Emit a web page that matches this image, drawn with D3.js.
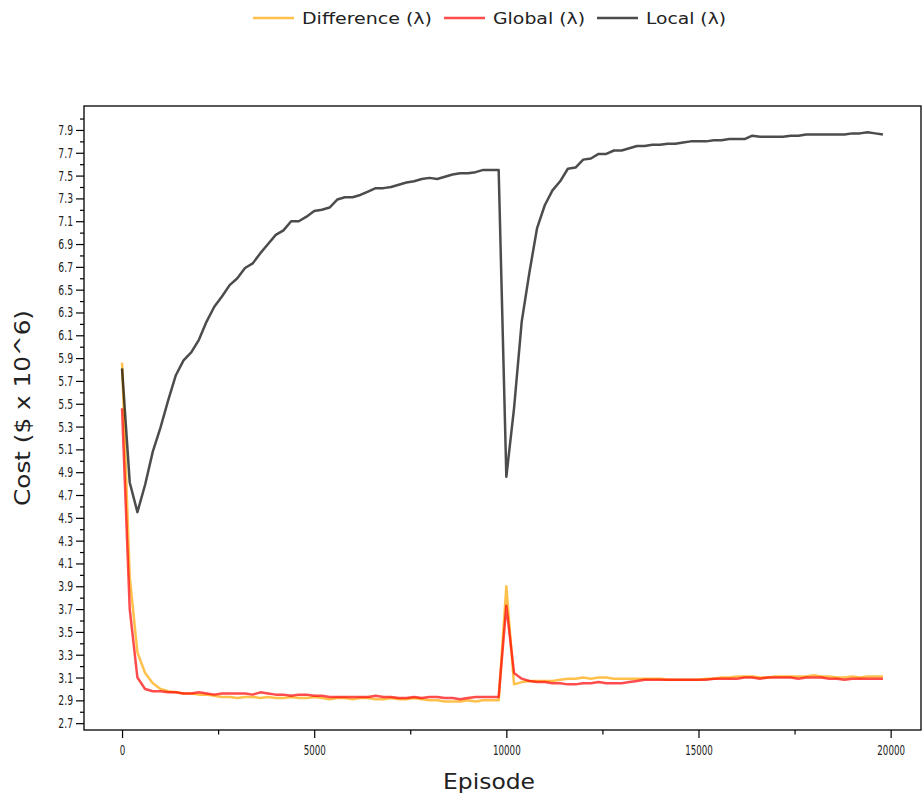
<!DOCTYPE html>
<html>
<head>
<meta charset="utf-8">
<script src="https://cdn.jsdelivr.net/npm/d3@7"></script>
<style>
    body { margin: 0; background: #fff; }
    text { font-family: "DejaVu Sans", sans-serif; fill: #222; }
</style>
</head>
<body>
<div id="chart"></div>
<script>

// Episodes sampled every 200 steps
var episodes = d3.range(0, 20000, 200);

var difference = [5.86, 3.98, 3.32, 3.14, 3.05, 3.00, 2.98, 2.97, 2.96, 2.96,
    2.95, 2.95, 2.94, 2.93, 2.93, 2.92, 2.93, 2.93, 2.92, 2.93,
    2.92, 2.92, 2.93, 2.92, 2.92, 2.93, 2.92, 2.91, 2.92, 2.92,
    2.91, 2.92, 2.92, 2.91, 2.91, 2.92, 2.91, 2.91, 2.92, 2.91,
    2.90, 2.90, 2.89, 2.89, 2.89, 2.90, 2.89, 2.90, 2.90, 2.90,
    3.90, 3.04, 3.06, 3.07, 3.07, 3.07, 3.07, 3.08, 3.09, 3.09,
    3.10, 3.09, 3.10, 3.10, 3.09, 3.09, 3.09, 3.09, 3.09, 3.09,
    3.09, 3.08, 3.08, 3.08, 3.08, 3.08, 3.09, 3.09, 3.10, 3.10,
    3.11, 3.11, 3.11, 3.10, 3.10, 3.11, 3.11, 3.11, 3.11, 3.11,
    3.12, 3.11, 3.11, 3.10, 3.10, 3.11, 3.10, 3.11, 3.11, 3.11];

var global = [5.46, 3.70, 3.10, 3.00, 2.98, 2.98, 2.97, 2.97, 2.96, 2.96,
    2.97, 2.96, 2.95, 2.96, 2.96, 2.96, 2.96, 2.95, 2.97, 2.96,
    2.95, 2.95, 2.94, 2.95, 2.95, 2.94, 2.94, 2.93, 2.93, 2.93,
    2.93, 2.93, 2.93, 2.94, 2.93, 2.93, 2.92, 2.92, 2.93, 2.92,
    2.93, 2.93, 2.92, 2.92, 2.91, 2.92, 2.93, 2.93, 2.93, 2.93,
    3.73, 3.14, 3.09, 3.07, 3.06, 3.06, 3.05, 3.05, 3.04, 3.04,
    3.05, 3.05, 3.06, 3.05, 3.05, 3.05, 3.06, 3.07, 3.08, 3.08,
    3.08, 3.08, 3.08, 3.08, 3.08, 3.08, 3.08, 3.09, 3.09, 3.09,
    3.09, 3.10, 3.10, 3.09, 3.10, 3.10, 3.10, 3.10, 3.09, 3.10,
    3.10, 3.10, 3.09, 3.09, 3.08, 3.09, 3.09, 3.09, 3.09, 3.09];

var local = [5.81, 4.81, 4.55, 4.79, 5.08, 5.29, 5.53, 5.75, 5.88, 5.95,
    6.06, 6.22, 6.35, 6.44, 6.54, 6.60, 6.69, 6.73, 6.82, 6.90,
    6.98, 7.02, 7.10, 7.10, 7.14, 7.19, 7.20, 7.22, 7.29, 7.31,
    7.31, 7.33, 7.36, 7.39, 7.39, 7.40, 7.42, 7.44, 7.45, 7.47,
    7.48, 7.47, 7.49, 7.51, 7.52, 7.52, 7.53, 7.55, 7.55, 7.55,
    4.86, 5.46, 6.22, 6.65, 7.04, 7.24, 7.37, 7.45, 7.56, 7.57,
    7.64, 7.65, 7.69, 7.69, 7.72, 7.72, 7.74, 7.76, 7.76, 7.77,
    7.77, 7.78, 7.78, 7.79, 7.80, 7.80, 7.80, 7.81, 7.81, 7.82,
    7.82, 7.82, 7.85, 7.84, 7.84, 7.84, 7.84, 7.85, 7.85, 7.86,
    7.86, 7.86, 7.86, 7.86, 7.86, 7.87, 7.87, 7.88, 7.87, 7.86];

var seriesNames = ["Difference (\u03bb)", "Global (\u03bb)", "Local (\u03bb)"];
var seriesColors = ["#ffa500", "#ff0000", "#000000"];
var seriesValues = [difference, global, local];

var xTicks = [0, 5000, 10000, 15000, 20000];
var xMinorTicks = [2500, 7500, 12500, 17500];
var yTicks = d3.range(27).map(function(i) { return +(2.7 + i * 0.2).toFixed(1); });
var yMinorTicks = d3.range(27).map(function(i) { return +(2.8 + i * 0.2).toFixed(1); });

var width = 923, height = 799;
var plot = { left: 84, right: 921, top: 106, bottom: 730 };

var svg = d3.select("#chart")
    .append("svg")
    .attr("width", width)
    .attr("height", height);

// matplotlib style 5% margins around the data
var x = d3.scaleLinear().domain([-990, 20790]).range([plot.left, plot.right]);
var y = d3.scaleLinear().domain([2.64, 8.11]).range([plot.bottom, plot.top]);

// Squeeze or stretch text horizontally to match the original
var squeeze = function (sel, k) {
    sel.each(function() {
        var w = this.getComputedTextLength();
        d3.select(this).attr("textLength", w * k).attr("lengthAdjust", "spacingAndGlyphs");
    });
};

// Lines (Local drawn last so it sits on top)
var line = d3.line()
    .x(function(d, i) { return x(episodes[i]); })
    .y(function(d) { return y(d); });

seriesValues.forEach(function(vals, s) {
    svg.append("path")
        .datum(vals)
        .attr("fill", "none")
        .attr("stroke", seriesColors[s])
        .attr("stroke-opacity", 0.7)
        .attr("stroke-width", 2.5)
        .attr("stroke-linejoin", "round")
        .attr("d", line);
});

// Axes
var xAxis = svg.append("g")
    .attr("transform", "translate(0," + plot.bottom + ")")
    .call(d3.axisBottom(x).tickValues(xTicks).tickSize(8).tickPadding(7).tickFormat(d3.format("d")));
xAxis.selectAll("text").attr("font-size", 14.5).attr("font-family", "DejaVu Sans").call(squeeze, 0.6);

svg.append("g")
    .attr("transform", "translate(0," + plot.bottom + ")")
    .call(d3.axisBottom(x).tickValues(xMinorTicks).tickSize(4.5).tickFormat(""));

var yAxis = svg.append("g")
    .attr("transform", "translate(" + plot.left + ",0)")
    .call(d3.axisLeft(y).tickValues(yTicks).tickSize(8).tickPadding(3).tickFormat(d3.format(".1f")));
yAxis.selectAll("text").attr("font-size", 14).attr("font-family", "DejaVu Sans").call(squeeze, 0.66);

svg.append("g")
    .attr("transform", "translate(" + plot.left + ",0)")
    .call(d3.axisLeft(y).tickValues(yMinorTicks).tickSize(4).tickFormat(""));

svg.selectAll(".domain").remove();
svg.selectAll(".tick line").attr("stroke", "#000").attr("stroke-width", 1.2);

// Frame
svg.append("rect")
    .attr("x", plot.left)
    .attr("y", plot.top)
    .attr("width", plot.right - plot.left)
    .attr("height", plot.bottom - plot.top)
    .attr("fill", "none")
    .attr("stroke", "#000")
    .attr("stroke-width", 1.3);

// Axis titles
svg.append("text")
    .attr("x", 489)
    .attr("y", 789)
    .attr("text-anchor", "middle")
    .attr("font-size", 22)
    .attr("textLength", 92)
    .attr("lengthAdjust", "spacingAndGlyphs")
    .text("Episode");

svg.append("text")
    .attr("transform", "translate(30,408) rotate(-90)")
    .attr("text-anchor", "middle")
    .attr("font-size", 22)
    .attr("textLength", 196)
    .attr("lengthAdjust", "spacingAndGlyphs")
    .text("Cost ($ x 10^6)");

// Legend across the top, no frame
var legendX = [253, 444, 597];
var legendTextWidth = [130, 92, 80];
var legend = svg.selectAll(".legendItem")
    .data(seriesNames)
    .enter()
    .append("g")
    .attr("class", "legendItem")
    .attr("transform", function(d, i) { return "translate(" + legendX[i] + ",18)"; });

legend.append("line")
    .attr("x1", 0)
    .attr("x2", 41)
    .attr("stroke", function(d, i) { return seriesColors[i]; })
    .attr("stroke-opacity", 0.7)
    .attr("stroke-width", 2.5);

legend.append("text")
    .attr("x", 49)
    .attr("dy", "0.35em")
    .attr("font-size", 16)
    .attr("textLength", function(d, i) { return legendTextWidth[i]; })
    .attr("lengthAdjust", "spacingAndGlyphs")
    .text(function(d) { return d; });

</script>
</body>
</html>
